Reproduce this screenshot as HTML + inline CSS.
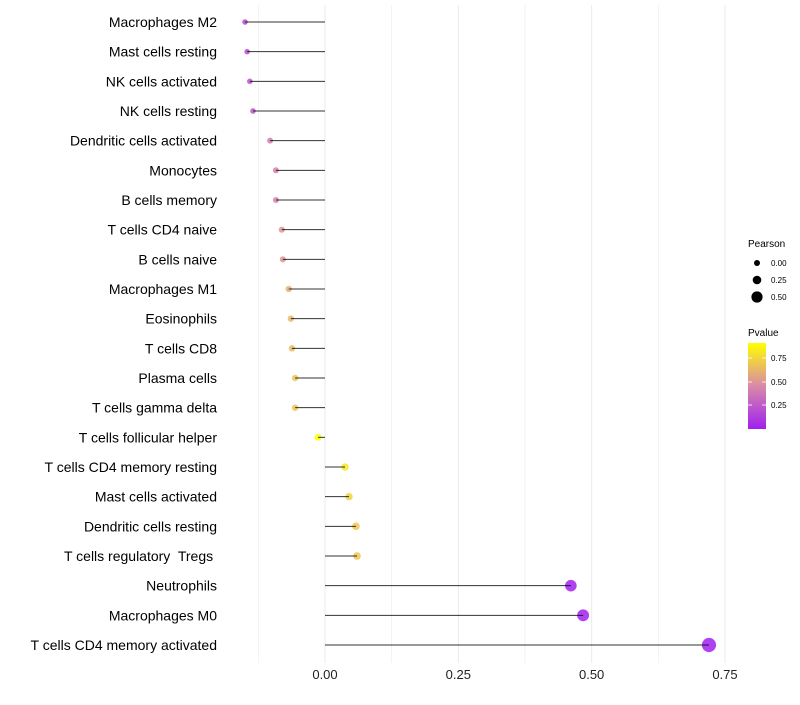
<!DOCTYPE html>
<html><head><meta charset="utf-8"><style>
body{margin:0;background:#fff;}
svg text{font-family:"Liberation Sans",sans-serif;white-space:pre;}
</style></head><body>
<svg id="chart" width="800" height="700" xmlns="http://www.w3.org/2000/svg">
<g id="grid"></g>
<g id="dots"></g>
<g id="marks"></g>
<g id="ylab"></g>
<g id="xlab"></g>
<g>
<text x="748" y="247" font-size="10">Pearson</text>
<circle cx="757" cy="263" r="3" fill="#000"/>
<circle cx="757" cy="280" r="4.3" fill="#000"/>
<circle cx="757" cy="297" r="5.6" fill="#000"/>
<text x="771" y="266" font-size="8">0.00</text>
<text x="771" y="283" font-size="8">0.25</text>
<text x="771" y="300" font-size="8">0.50</text>
</g>
<g>
<defs><linearGradient id="pg" x1="0" y1="1" x2="0" y2="0">
<stop offset="0" stop-color="#A020F0"/><stop offset="0.5" stop-color="#D98AA8"/><stop offset="1" stop-color="#FFFF00"/></linearGradient></defs>
<text x="748" y="336" font-size="10">Pvalue</text>
<rect x="748" y="343" width="18" height="86" fill="url(#pg)"/>
<g stroke="#fff" stroke-width="0.8"><line x1="748" y1="358" x2="752" y2="358"/><line x1="762" y1="358" x2="766" y2="358"/><line x1="748" y1="382" x2="752" y2="382"/><line x1="762" y1="382" x2="766" y2="382"/><line x1="748" y1="405" x2="752" y2="405"/><line x1="762" y1="405" x2="766" y2="405"/></g>
<text x="771" y="361" font-size="8">0.75</text>
<text x="771" y="385" font-size="8">0.50</text>
<text x="771" y="408" font-size="8">0.25</text>
</g>
</svg>
<script>
const categories=["Macrophages M2","Mast cells resting","NK cells activated","NK cells resting","Dendritic cells activated","Monocytes","B cells memory","T cells CD4 naive","B cells naive","Macrophages M1","Eosinophils","T cells CD8","Plasma cells","T cells gamma delta","T cells follicular helper","T cells CD4 memory resting","Mast cells activated","Dendritic cells resting","T cells regulatory  Tregs ","Neutrophils","Macrophages M0","T cells CD4 memory activated"];
const pearson=[-0.150,-0.146,-0.141,-0.135,-0.103,-0.092,-0.092,-0.081,-0.079,-0.068,-0.064,-0.062,-0.056,-0.056,-0.013,0.0375,0.045,0.058,0.060,0.461,0.484,0.720];
const pvalues=[0.18,0.20,0.22,0.24,0.40,0.42,0.43,0.50,0.50,0.60,0.62,0.63,0.67,0.68,0.89,0.80,0.72,0.68,0.68,0.02,0.015,0.01];
const xTicks=[0,0.25,0.5,0.75];
const xTickLabels=["0.00","0.25","0.50","0.75"];
const NS="http://www.w3.org/2000/svg";
const x=v=>325+v*533.3;
const y=i=>22+i*29.667;
function mk(t,a,p){const e=document.createElementNS(NS,t);for(const k in a)e.setAttribute(k,a[k]);p.appendChild(e);return e;}
function col(p){const t=Math.max(0,Math.min(1,(p-0.01)/0.88));const A=[160,32,240],M=[217,138,168],B=[255,255,0];let c;if(t<0.5){const s=t/0.5;c=A.map((v,i)=>v+(M[i]-v)*s);}else{const s=(t-0.5)/0.5;c=M.map((v,i)=>v+(B[i]-v)*s);}return `rgb(${c.map(Math.round).join(',')})`;}
const grid=document.getElementById('grid'),dots=document.getElementById('dots'),marks=document.getElementById('marks'),yl=document.getElementById('ylab'),xl=document.getElementById('xlab');
for(let v=-0.125;v<=0.76;v+=0.125){const l=mk('line',{x1:x(v),x2:x(v),y1:5,y2:663,stroke:'#ebebeb','stroke-width':Math.abs((v*8)%2)<0.01?1:0.6},grid);}
categories.forEach((c,i)=>{
const r=Math.max(2.5,3.5+5*pearson[i]);
const d=mk('circle',{cx:x(pearson[i]),cy:y(i),r:r,fill:col(pvalues[i]),'fill-opacity':0.85},dots);

const l=mk('line',{x1:x(0),x2:x(pearson[i]),y1:y(i),y2:y(i),stroke:'#000','stroke-width':1,'stroke-opacity':0.8},marks);

const t=mk('text',{x:217,y:y(i)+5,'font-size':14,'text-anchor':'end',fill:'#000'},yl);t.textContent=c;

});
xTicks.forEach((v,i)=>{const t=mk('text',{x:x(v),y:679,'font-size':13,'text-anchor':'middle',fill:'#222'},xl);t.textContent=xTickLabels[i];
});
</script>
</body></html>
